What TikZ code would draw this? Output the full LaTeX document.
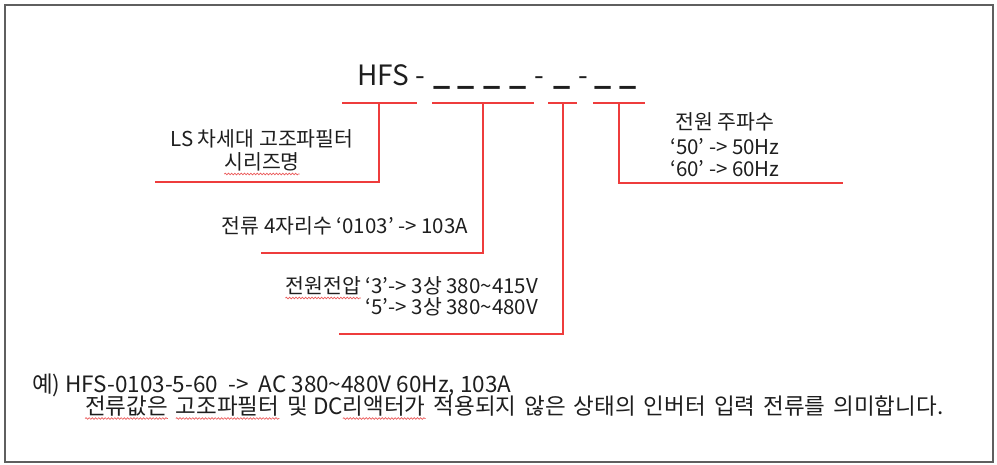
\documentclass[tikz,border=0pt]{standalone}
\usepackage{fontspec}
\setmainfont{Noto Sans CJK KR}
\usetikzlibrary{decorations.pathmorphing}
\definecolor{redln}{RGB}{238,60,60}
\definecolor{wavered}{RGB}{235,90,90}
\definecolor{txtc}{RGB}{30,30,30}
\definecolor{framec}{RGB}{95,95,95}
\begin{document}
\begin{tikzpicture}[x=1pt,y=-1pt,
  txt/.style={inner sep=0pt,outer sep=0pt,text=txtc,font=\fontsize{20.5}{24}\selectfont},
  btxt/.style={inner sep=0pt,outer sep=0pt,text=txtc,font=\fontsize{22.5}{26}\selectfont},
  big/.style={inner sep=0pt,outer sep=0pt,text=txtc,font=\fontsize{28}{32}\selectfont},
  redline/.style={draw=redln,line width=1.4pt},
  wave/.style={draw=wavered,line width=0.7pt,decorate,decoration={snake,amplitude=0.8pt,segment length=3.2pt}}]
\useasboundingbox (0,0) rectangle (997,465);
\draw[framec,line width=1.5pt] (5,5) rectangle (993,462);
% model code
\node[big,anchor=base west] (hfs) at (357,86) {HFS -};
\foreach \x/\n in {442/u1,466/u2,492/u3,518/u4,562/u5,603/u6,628/u7}
  \node[big,anchor=base,font=\fontsize{30}{32}\selectfont\bfseries] (\n) at (\x,85) {\_};
\node[big,anchor=base] (h1) at (539,86) {-};
\node[big,anchor=base] (h2) at (583,86) {-};
% brackets
\coordinate (a1) at (342,103); \coordinate (a1e) at (417,103); \coordinate (m1) at (379,103); \coordinate (e1) at (155,182);
\coordinate (a2) at (432,103); \coordinate (a2e) at (534,103); \coordinate (m2) at (483,103); \coordinate (e2) at (261,253);
\coordinate (a3) at (548,103); \coordinate (a3e) at (577,103); \coordinate (m3) at (563,103); \coordinate (e3) at (339,334);
\coordinate (a4) at (593,103); \coordinate (a4e) at (645,103); \coordinate (m4) at (619,103); \coordinate (e4) at (843,183);
\foreach \i in {1,2,3,4}{
  \draw[redline] (a\i) -- (a\i e);
  \draw[redline] (m\i) |- (e\i);
}
% labels
\node[txt,anchor=base] (ls1) at (262,147) {LS 차세대 고조파필터};
\node[txt,anchor=base] (ls2) at (262,170) {시리즈명};
\draw[wave] ([yshift=-4pt]ls2.base west) -- ([yshift=-4pt]ls2.base east);
\node[txt,anchor=base east] (cur) at (468,234) {전류 4자리수 ‘0103’ -> 103A};
\node[txt,anchor=base east] (v1b) at (538,294) {‘3’-> 3상 380\textasciitilde415V};
\node[txt,anchor=base east] (v1a) at ([xshift=-5pt]v1b.base west) {전원전압};
\draw[wave] ([yshift=-4pt]v1a.base west) -- ([yshift=-4pt]v1a.base east);
\node[txt,anchor=base east] (v2) at (538,315) {‘5’-> 3상 380\textasciitilde480V};
\node[txt,anchor=base] (f1) at (725,130) {전원 주파수};
\node[txt,anchor=base] (f2) at (725,155) {‘50’ -> 50Hz};
\node[txt,anchor=base] (f3) at (725,177) {‘60’ -> 60Hz};
% example
\node[btxt,anchor=base west] (ex1) at (32,392) {예) HFS-0103-5-60 \ -> \ AC 380\textasciitilde480V 60Hz, 103A};
\node[btxt,anchor=base west] (w1) at (85,414) {전류값은};
\node[btxt,anchor=base west] (w2) at ([xshift=8pt]w1.base east) {고조파필터};
\node[btxt,anchor=base west] (w3) at ([xshift=8pt]w2.base east) {및 DC};
\node[btxt,anchor=base west] (w4) at (w3.base east) {리액터가};
\node[btxt,anchor=base west] (w5) at ([xshift=8pt]w4.base east) {\spaceskip=8pt\relax 적용되지 않은 상태의 인버터 입력 전류를 의미합니다.};
\foreach \w in {w1,w2,w4}
  \draw[wave] ([yshift=-4.5pt]\w.base west) -- ([yshift=-4.5pt]\w.base east);
\end{tikzpicture}
\end{document}
